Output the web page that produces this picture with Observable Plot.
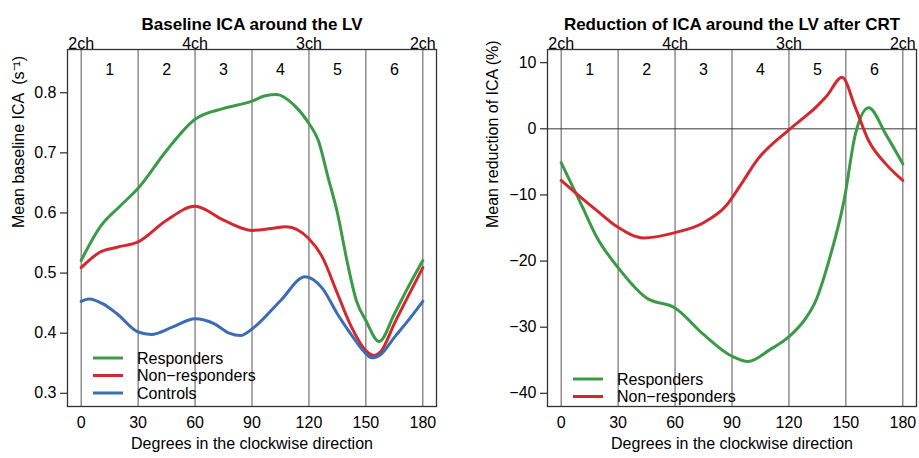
<!DOCTYPE html>
<html>
<head>
<meta charset="utf-8">
<script src="https://cdn.jsdelivr.net/npm/d3@7"></script>
<script src="https://cdn.jsdelivr.net/npm/@observablehq/plot@0.6"></script>
<style>
  html, body { margin: 0; padding: 0; background: #fff; }
  #wrap { display: flex; width: 919px; height: 458px; font-family: "Liberation Sans", Arial, sans-serif; }
</style>
</head>
<body>
<div id="wrap"></div>
<script>
// ---------- data ----------
const boundaries = [0, 30, 60, 90, 120, 150, 180];
const bottomTicks = [0, 30, 60, 90, 120, 150, 180];
const topTicks = [0, 60, 120, 180];
const topLabels = ["2ch", "4ch", "3ch", "2ch"];
const segmentMids = [15, 45, 75, 105, 135, 165];
const segmentLabels = ["1", "2", "3", "4", "5", "6"];

const leftYTicks = [0.3, 0.4, 0.5, 0.6, 0.7, 0.8];
const rightYTicks = [10, 0, -10, -20, -30, -40];

// Baseline ICA (left panel)
const baseRespDeg = [0, 10, 20, 30, 45, 60, 75, 90, 97, 103, 112, 120, 125, 130, 135, 140, 145, 150, 157, 165, 172, 180];
const baseRespVal = [0.521, 0.577, 0.61, 0.641, 0.704, 0.756, 0.774, 0.786, 0.795, 0.797, 0.78, 0.749, 0.72, 0.66, 0.60, 0.521, 0.454, 0.421, 0.386, 0.432, 0.475, 0.521];
const baseNonDeg = [0, 10, 19, 30, 45, 60, 75, 90, 100, 108, 120, 127, 135, 142, 150, 154, 158, 165, 172, 180];
const baseNonVal = [0.509, 0.535, 0.543, 0.552, 0.588, 0.611, 0.588, 0.571, 0.574, 0.577, 0.557, 0.527, 0.466, 0.413, 0.371, 0.363, 0.37, 0.416, 0.46, 0.509];
const baseCtrlDeg = [0, 4, 12, 19, 30, 37, 48, 60, 70, 78, 84, 90, 105, 118, 127, 135, 142, 150, 153, 158, 165, 172, 180];
const baseCtrlVal = [0.453, 0.457, 0.448, 0.432, 0.402, 0.398, 0.41, 0.424, 0.416, 0.400, 0.396, 0.407, 0.454, 0.494, 0.475, 0.432, 0.399, 0.366, 0.359, 0.365, 0.393, 0.42, 0.453];

// Reduction of ICA after CRT (right panel)
const redRespDeg = [0, 10.5, 19, 30, 45, 60, 75, 90, 98.5, 110, 119.4, 129, 134, 141, 149, 155, 162, 171, 180];
const redRespVal = [-5.1, -11.4, -16.5, -21.0, -25.6, -27.1, -31.1, -34.4, -35.2, -33.4, -31.6, -28.6, -26.1, -20.0, -10.9, -0.8, 3.2, -0.8, -5.3];
const redNonDeg = [0, 10.5, 19, 30, 43.6, 60, 75, 87, 95, 103, 119.4, 127, 134, 140, 148, 155, 162, 171, 180];
const redNonVal = [-7.8, -10.4, -12.4, -14.9, -16.5, -15.7, -14.2, -11.6, -8.3, -4.8, -0.3, 1.5, 3.2, 5.0, 7.8, 3.2, -1.8, -5.3, -7.8];

const seriesNames = ["Responders", "Non\u2212responders", "Controls"];
const seriesColors = ["#3b9a46", "#d3282d", "#3a6db4"];

function toRows(deg, val) { return deg.map((d, i) => ({deg: d, v: val[i]})); }

const FONT = "\"Liberation Sans\", Arial, sans-serif";

function panel({width, marginLeft, marginRight, yDomain, yTicks, yFormat, title, yLabel, yLabelDx, series, zeroLine, legendY}) {
  const marks = [
    Plot.ruleX(boundaries, {stroke: "#555", strokeWidth: 1}),
  ];
  if (zeroLine) marks.push(Plot.ruleY([0], {stroke: "#333", strokeWidth: 1}));
  series.forEach(s => {
    marks.push(Plot.line(toRows(s.deg, s.val), {x: "deg", y: "v", stroke: s.color, strokeWidth: 3, curve: "monotone-x"}));
  });
  marks.push(
    Plot.frame({stroke: "#333", strokeWidth: 1.3}),
    Plot.axisY({ticks: yTicks, tickSize: 7, tickPadding: 4, tickFormat: yFormat, label: null, fontSize: 16}),
    Plot.axisX({ticks: bottomTicks, tickSize: 0, tickPadding: 10, label: null, fontSize: 16}),
    Plot.axisX({anchor: "top", ticks: topTicks, tickSize: 0, tickPadding: 1, label: null, fontSize: 16,
      tickFormat: d => topLabels[topTicks.indexOf(d)]}),
    Plot.text(segmentMids, {x: d => d, text: (d, i) => segmentLabels[i], frameAnchor: "top", dy: 14, fontSize: 16}),
    Plot.text([title], {frameAnchor: "top", dy: -32, fontSize: 17, fontWeight: "bold"}),
    Plot.text(["Degrees in the clockwise direction"], {frameAnchor: "bottom", dy: 42, fontSize: 16}),
    Plot.text([yLabel], {frameAnchor: "left", dx: yLabelDx, rotate: -90, fontSize: 16})
  );
  const svg = Plot.plot({
    width, height: 458,
    marginLeft, marginRight, marginTop: 49, marginBottom: 52,
    style: {fontFamily: FONT, fontSize: "16px", color: "#000", background: "#fff"},
    x: {domain: [-7.2, 187.2]},
    y: {domain: yDomain},
    marks
  });
  // legend
  const g = d3.select(svg).append("g").attr("font-family", FONT).attr("font-size", 16).attr("text-anchor", "start");
  series.forEach((s, i) => {
    const y = legendY + i * 17.5;
    g.append("line").attr("x1", marginLeft + 26).attr("x2", marginLeft + 56).attr("y1", y).attr("y2", y)
      .attr("stroke", s.color).attr("stroke-width", 3);
    g.append("text").attr("x", marginLeft + 70).attr("y", y).attr("dy", "0.35em").attr("text-anchor", "start").attr("fill", "#000").text(s.name);
  });
  return svg;
}

const wrap = document.getElementById("wrap");
wrap.appendChild(panel({
  width: 460, marginLeft: 67, marginRight: 24,
  yDomain: [0.278, 0.872], yTicks: leftYTicks, yFormat: d => d.toFixed(1),
  title: "Baseline ICA around the LV",
  yLabel: "Mean baseline ICA  (s\u207B\u00B9)", yLabelDx: -49,
  zeroLine: false, legendY: 358,
  series: [
    {name: seriesNames[0], color: seriesColors[0], deg: baseRespDeg, val: baseRespVal},
    {name: seriesNames[1], color: seriesColors[1], deg: baseNonDeg, val: baseNonVal},
    {name: seriesNames[2], color: seriesColors[2], deg: baseCtrlDeg, val: baseCtrlVal}
  ]
}));
wrap.appendChild(panel({
  width: 459, marginLeft: 87, marginRight: 3,
  yDomain: [-42, 12], yTicks: rightYTicks, yFormat: d => (d < 0 ? "\u2212" + Math.abs(d) : String(d)),
  title: "Reduction of ICA around the LV after CRT",
  yLabel: "Mean reduction of ICA (%)", yLabelDx: -55,
  zeroLine: true, legendY: 379,
  series: [
    {name: seriesNames[0], color: seriesColors[0], deg: redRespDeg, val: redRespVal},
    {name: seriesNames[1], color: seriesColors[1], deg: redNonDeg, val: redNonVal}
  ]
}));
</script>
</body>
</html>
